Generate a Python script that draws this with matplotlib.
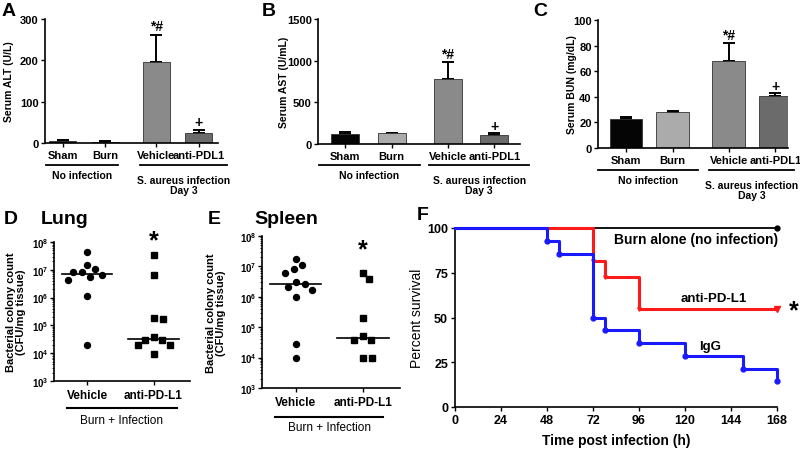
import numpy as np
import matplotlib
matplotlib.use("Agg")
import matplotlib.pyplot as plt
from matplotlib.transforms import blended_transform_factory

plt.rcParams['font.family'] = ['Liberation Sans', 'DejaVu Sans']
plt.rcParams['font.weight'] = 'bold'
plt.rcParams['axes.linewidth'] = 1.2

W, H = 800, 452

# ---- data ----
bar_groups = ["Sham", "Burn", "Vehicle", "anti-PDL1"]
bar_colors = ["#050505", "#ababab", "#8a8a8a", "#6b6b6b"]
alt_mean = [5, 3, 195, 25]
alt_err = [2, 1, 66, 7]
ast_mean = [120, 130, 780, 110]
ast_err = [20, 5, 205, 20]
bun_mean = [23, 28, 68, 40.5]
bun_err = [1, 0.7, 14, 2.5]

lung_vehicle = [4.2e7, 1.5e7, 8.3e6, 6.5e6, 1.05e7, 8e6, 4.3e6, 5.6e6, 1.1e6, 1.9e4]
lung_antipdl1 = [3.3e7, 6.5e6, 1.9e5, 1.7e5, 2.9e4, 3.8e4, 2.9e4, 1.9e4, 1.9e4, 9.6e3]
spleen_vehicle = [1.8e7, 1.1e7, 8.1e6, 6.3e6, 2.7e6, 3.1e6, 2.1e6, 1.7e6, 1.0e6, 2.9e4, 1.0e4]
spleen_antipdl1 = [6.3e6, 3.8e6, 2.0e5, 3.9e4, 3.9e4, 5.0e4, 1.0e4, 1.0e4]

burn_t = [0, 168]
burn_s = [100, 100]
igg_t = [0, 48, 54, 72, 78, 96, 120, 150, 168]
igg_s = [100, 92.9, 85.7, 50.0, 42.9, 35.7, 28.6, 21.4, 14.3]
apd_t = [0, 72, 78, 96, 168]
apd_s = [100, 81.8, 72.7, 54.5, 54.5]

fig = plt.figure(figsize=(8, 4.52), dpi=100)


def px_axes(l, t, r, b):
    return fig.add_axes([l / W, 1 - b / H, (r - l) / W, (b - t) / H])


def fy(py):
    return 1 - py / H


def fx(px):
    return px / W


def bar_panel(rect, xs, xlim, width, means, errs, ymax, yticks, ylabel,
              ylab_x, letter, letter_xy, lines, mark_offsets):
    ax = px_axes(*rect)
    ax.bar(xs, means, width=width, color=bar_colors, edgecolor="#333333",
           linewidth=0.6, zorder=2)
    ax.errorbar(xs, means, yerr=[[0] * 4, errs], fmt='none', ecolor='black',
                elinewidth=1.4, capsize=4.5, capthick=1.4, zorder=1)
    ax.set_xlim(*xlim)
    ax.set_ylim(0, ymax)
    ax.set_yticks(yticks)
    ax.set_xticks(xs)
    ax.set_xticklabels(bar_groups, fontsize=8, fontweight='bold')
    ax.tick_params(axis='y', labelsize=8, length=3, width=1, pad=1.5)
    ax.tick_params(axis='x', length=3, width=1, pad=2)
    for s in ['top', 'right']:
        ax.spines[s].set_visible(False)
    fig.text(fx(ylab_x), (fy(rect[1]) + fy(rect[3])) / 2, ylabel, rotation=90,
             ha='center', va='center', fontsize=7.5, fontweight='bold')
    fig.text(fx(letter_xy[0]), fy(letter_xy[1]), letter, fontsize=14,
             fontweight='bold', ha='left', va='center')
    tr = blended_transform_factory(ax.transData, fig.transFigure)
    # significance marks
    ax.text(xs[2], means[2] + errs[2] + mark_offsets[0], "*#", ha='center',
            va='bottom', fontsize=10, fontweight='bold')
    ax.text(xs[3], means[3] + errs[3] + mark_offsets[1], "+", ha='center',
            va='bottom', fontsize=10, fontweight='bold')
    (a0, a1), (b0, b1), line_y, txt_y = lines
    ax.plot([a0, a1], [fy(line_y)] * 2, color='black', lw=1.3,
            transform=tr, clip_on=False)
    ax.plot([b0, b1], [fy(line_y)] * 2, color='black', lw=1.3,
            transform=tr, clip_on=False)
    ax.text((a0 + a1) / 2, fy(txt_y), "No infection", transform=tr,
            ha='center', va='center', fontsize=7.5, fontweight='bold')
    ax.text((b0 + b1) / 2, fy(txt_y), "S. aureus infection\nDay 3",
            transform=tr, ha='center', va='top', fontsize=7.5,
            fontweight='bold', linespacing=1.0)
    return ax


xs = [0, 1, 2.2, 3.2]
bar_panel((45, 20, 218, 144), xs, (-0.42, 3.65), 0.64, alt_mean, alt_err,
          300, [0, 100, 200, 300], "Serum ALT (U/L)", 9, "A", (2, 11),
          ((-0.4, 1.3), (1.82, 3.85), 166, 176), (6, 3))
bar_panel((318, 20, 520, 145), xs, (-0.58, 3.75), 0.6, ast_mean, ast_err,
          1500, [0, 500, 1000, 1500], "Serum AST (U/mL)", 284, "B", (262, 11),
          ((-0.55, 1.6), (1.8, 3.95), 166, 176), (15, 5))
bar_panel((598, 21, 788, 149), xs, (-0.6, 3.47), 0.7, bun_mean, bun_err,
          100, [0, 20, 40, 60, 80, 100], "Serum BUN (mg/dL)", 572, "C", (533, 11),
          ((-0.6, 1.55), (1.78, 3.6), 171, 181), (0.5, 0.3))


def swarm_offsets(ax, x0, vals, diam_px):
    """Greedy beeswarm in pixel space, returns x offsets in data units."""
    to_px = ax.transData
    pts = to_px.transform(np.column_stack([np.full(len(vals), x0), vals]))
    px_per_unit = to_px.transform([[1, 1e5]])[0][0] - to_px.transform([[0, 1e5]])[0][0]
    order = np.argsort(-np.asarray(vals))
    placed = []
    dx = np.zeros(len(vals))
    cands = [0]
    for k in range(1, 80):
        cands += [k * 0.5, -k * 0.5]
    for i in order:
        y = pts[i][1]
        for c in cands:
            if all((c - px) ** 2 + (y - py) ** 2 >= diam_px ** 2 for px, py in placed):
                dx[i] = c
                placed.append((c, y))
                break
    return dx / px_per_unit


def scatter_panel(rect, veh, apd, ylab_x, letter, letter_x, title, title_x,
                  star_y, line_y, group_y, line_ext):
    ax = px_axes(*rect)
    ax.set_yscale('log')
    ax.set_ylim(1e3, 1e8)
    ax.set_xlim(-0.5, 1.55)
    for x0, vals, mk in [(0, veh, 'o'), (1, apd, 's')]:
        offs = swarm_offsets(ax, x0, vals, 9.0)
        ax.plot(x0 + offs, vals, linestyle='none', marker=mk, color='black',
                markersize=4.3 if mk == 'o' else 4.0, zorder=3, clip_on=False)
        med = np.median(vals)
        ax.plot([x0 - 0.38, x0 + 0.38], [med, med], color='black', lw=1.2)
    ax.set_xticks([0, 1])
    ax.set_xticklabels(["Vehicle", "anti-PD-L1"], fontsize=8.5,
                       fontweight='bold')
    ax.set_yticks([1e3, 1e4, 1e5, 1e6, 1e7, 1e8])
    ax.tick_params(axis='y', labelsize=7, length=3, width=1, pad=1)
    ax.tick_params(axis='y', which='minor', length=1.6, width=0.6)
    ax.tick_params(axis='x', length=3, width=1, pad=3)
    for s in ['top', 'right']:
        ax.spines[s].set_visible(False)
    fig.text(fx(ylab_x), (fy(rect[1]) + fy(rect[3])) / 2,
             "Bacterial colony count\n(CFU/mg tissue)", rotation=90,
             ha='center', va='center', fontsize=8, fontweight='bold',
             linespacing=1.1)
    fig.text(fx(letter_x), fy(220), letter, fontsize=14, fontweight='bold',
             ha='left', va='center')
    fig.text(fx(title_x), fy(220), title, fontsize=14, fontweight='bold',
             ha='left', va='center')
    tr = blended_transform_factory(ax.transData, fig.transFigure)
    ax.text(1, fy(star_y), "*", transform=tr, ha='center', va='center',
            fontsize=18, fontweight='bold')
    ax.plot(line_ext, [fy(line_y)] * 2, color='black', lw=1.5, transform=tr,
            clip_on=False)
    ax.text(sum(line_ext) / 2, fy(group_y), "Burn + Infection", transform=tr,
            ha='center', va='center', fontsize=8.5, fontweight='normal')
    return ax


scatter_panel((54, 243, 190, 382), lung_vehicle, lung_antipdl1, 16, "D", 4,
              "Lung", 41, 241, 409, 421, (-0.3, 1.35))
scatter_panel((262, 237, 400, 389), spleen_vehicle, spleen_antipdl1, 216,
              "E", 208, "Spleen", 254, 250, 418, 428, (-0.3, 1.3))

# ---- survival panel ----
axf = px_axes(455, 229, 777, 408)
axf.step(burn_t, burn_s, where='post', color='black', lw=1.3, zorder=2,
         clip_on=False)
axf.plot(burn_t[-1:], burn_s[-1:], 'o', color='black', markersize=3.5,
         clip_on=False)
axf.step(apd_t, apd_s, where='post', color='#ff1a1a', lw=2.2, zorder=3,
         clip_on=False)
axf.plot(apd_t[1:-1], apd_s[1:-1], 'v', color='#ff1a1a', markersize=2.5,
         clip_on=False, zorder=3)
axf.plot(apd_t[-1:], apd_s[-1:], 'v', color='#ff1a1a', markersize=4,
         clip_on=False, zorder=3)
axf.step(igg_t, igg_s, where='post', color='#1a1aff', lw=2.2, zorder=4,
         clip_on=False)
axf.plot(igg_t[1:], igg_s[1:], 'o', color='#1a1aff', markersize=3.5,
         clip_on=False, zorder=4)
axf.set_xlim(0, 168)
axf.set_ylim(0, 100)
axf.set_xticks(np.arange(0, 169, 24))
axf.set_yticks([0, 25, 50, 75, 100])
axf.tick_params(labelsize=9, length=3, width=1, pad=2)
for s in ['top', 'right']:
    axf.spines[s].set_visible(False)
axf.set_xlabel("Time post infection (h)", fontsize=10, fontweight='bold',
               labelpad=5)
axf.set_ylabel("Percent survival", fontsize=10, fontweight='normal')
axf.yaxis.set_label_coords(-0.096, 0.5)
axf.text(168.5, 94, "Burn alone (no infection)", ha='right', va='center',
         fontsize=10, fontweight='bold')
axf.text(135, 61, "anti-PD-L1", ha='center', va='center', fontsize=9.5,
         fontweight='bold')
axf.text(133, 34, "IgG", ha='center', va='center', fontsize=9.5,
         fontweight='bold')
axf.text(177, 54, "*", ha='center', va='center', fontsize=18,
         fontweight='bold', clip_on=False)
fig.text(fx(417), fy(216), "F", fontsize=14, fontweight='bold', ha='left',
         va='center')

fig.savefig("out.png", dpi=100)
